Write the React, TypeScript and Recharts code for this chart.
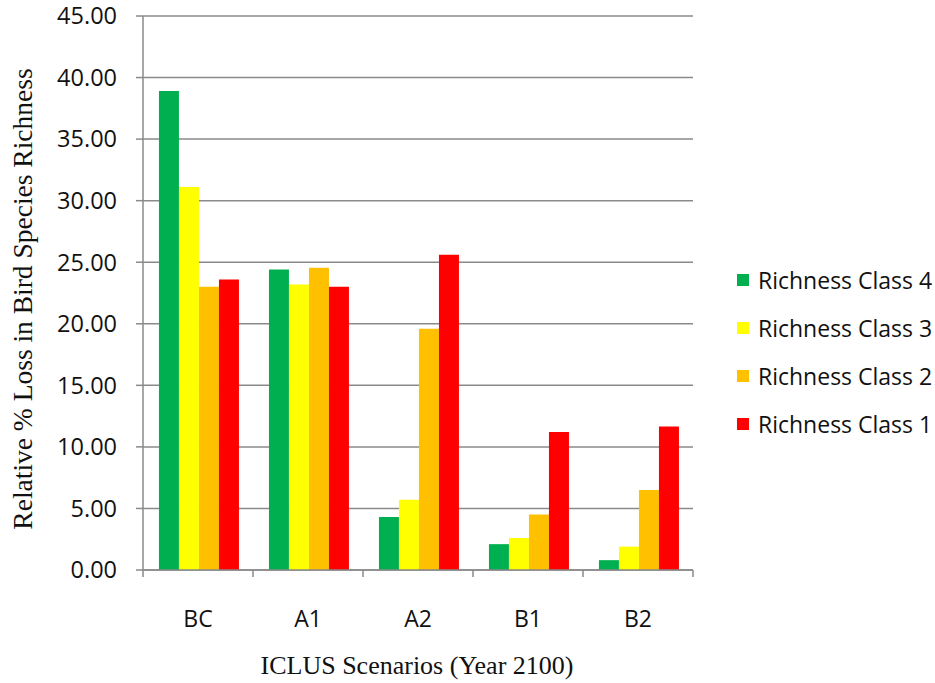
import React from 'react';
import { BarChart, Bar, XAxis, YAxis, CartesianGrid, Label } from 'recharts';

const categories = ['BC', 'A1', 'A2', 'B1', 'B2'];
const class4 = [38.9, 24.4, 4.3, 2.1, 0.8];
const class3 = [31.1, 23.2, 5.7, 2.6, 1.9];
const class2 = [23.0, 24.55, 19.6, 4.5, 6.5];
const class1 = [23.6, 23.0, 25.6, 11.2, 11.65];
const yTicks = [0, 5, 10, 15, 20, 25, 30, 35, 40, 45];

const seriesNames = ['Richness Class 4', 'Richness Class 3', 'Richness Class 2', 'Richness Class 1'];
const seriesKeys = ['c4', 'c3', 'c2', 'c1'];
const seriesColors = ['#00b050', '#ffff00', '#ffc000', '#ff0000'];

const data = categories.map((c, i) => ({
  name: c,
  c4: class4[i],
  c3: class3[i],
  c2: class2[i],
  c1: class1[i],
}));

const AXIS_COLOR = '#8a8a8a';
const SANS = '"Open Sans", "Noto Sans", sans-serif';
const SERIF = '"Liberation Serif", "DejaVu Serif", serif';

const XTick = (props: any) => {
  const { x, y, payload, index } = props;
  const half = payload && payload.offset ? payload.offset : 55;
  return (
    <g>
      <line x1={x - half} y1={y} x2={x - half} y2={y + 7} stroke={AXIS_COLOR} strokeWidth={1.5} />
      {index === categories.length - 1 && (
        <line x1={x + half} y1={y} x2={x + half} y2={y + 7} stroke={AXIS_COLOR} strokeWidth={1.5} />
      )}
      <text x={x} y={y + 57} textAnchor="middle" fontFamily={SANS} fontSize={23} fontWeight={500} fill="#111">
        {payload.value}
      </text>
    </g>
  );
};

const YTitle = (props: any) => {
  const vb = props.viewBox || { x: 0, y: 16, width: 143, height: 554 };
  const cy = vb.y + vb.height / 2 + 6;
  return (
    <text
      x={32}
      y={cy}
      transform={`rotate(-90, 32, ${cy})`}
      textAnchor="middle"
      fontFamily={SERIF}
      fontSize={27.5}
      fill="#111"
    >
      {props.value}
    </text>
  );
};

const XTitle = (props: any) => {
  const vb = props.viewBox || { x: 143, y: 570, width: 550, height: 113 };
  return (
    <text
      x={vb.x + vb.width / 2 - 1}
      y={vb.y + 103.5}
      textAnchor="middle"
      fontFamily={SERIF}
      fontSize={26}
      fill="#111"
    >
      {props.value}
    </text>
  );
};

export default function App() {
  return (
    <div style={{ position: 'absolute', left: 0, top: 0, width: 935, height: 683, background: '#fff' }}>
      <BarChart
        width={935}
        height={683}
        data={data}
        margin={{ top: 16, right: 242, bottom: 0, left: 0 }}
        barCategoryGap="14.5%"
        barGap={0}
      >
        <CartesianGrid vertical={false} stroke={AXIS_COLOR} strokeWidth={1.5} />
        <XAxis
          dataKey="name"
          height={113}
          tickLine={false}
          tickSize={0}
          tickMargin={0}
          axisLine={{ stroke: AXIS_COLOR, strokeWidth: 1.5 }}
          tick={<XTick />}
          interval={0}
        >
          <Label value="ICLUS Scenarios (Year 2100)" content={<XTitle />} />
        </XAxis>
        <YAxis
          width={143}
          domain={[0, 45]}
          ticks={yTicks}
          interval={0}
          tickFormatter={(v: number) => v.toFixed(2)}
          tickSize={7}
          tickMargin={19}
          tickLine={{ stroke: AXIS_COLOR, strokeWidth: 1.5 }}
          axisLine={{ stroke: AXIS_COLOR, strokeWidth: 1.5 }}
          tick={{ fontFamily: SANS, fontSize: 23.5, fontWeight: 500, fill: '#111' }}
        >
          <Label value="Relative % Loss in Bird Species Richness" content={<YTitle />} />
        </YAxis>
        {seriesKeys.map((k, i) => (
          <Bar key={k} dataKey={k} name={seriesNames[i]} fill={seriesColors[i]} isAnimationActive={false} />
        ))}
      </BarChart>
      <div style={{ position: 'absolute', left: 737, top: 256, display: 'flex', flexDirection: 'column' }}>
        {seriesNames.map((n, i) => (
          <div key={n} style={{ display: 'flex', alignItems: 'center', height: 48 }}>
            <span style={{ display: 'inline-block', width: 12, height: 12, background: seriesColors[i], marginRight: 9 }} />
            <span style={{ fontFamily: SANS, fontSize: 23, fontWeight: 500, color: '#111', whiteSpace: 'nowrap' }}>
              {n}
            </span>
          </div>
        ))}
      </div>
    </div>
  );
}
